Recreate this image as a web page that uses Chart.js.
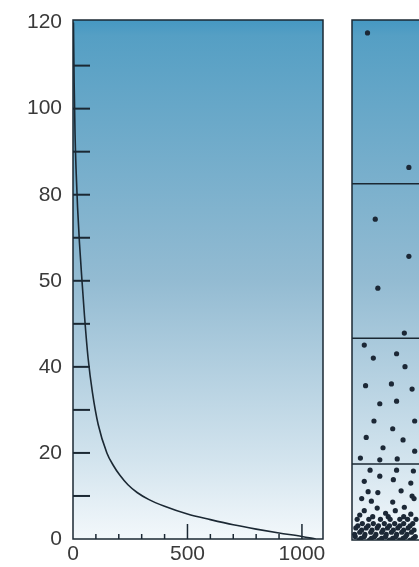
<!DOCTYPE html>
<html>
<head>
<meta charset="utf-8">
<script src="https://cdn.jsdelivr.net/npm/chart.js@4.4.1/dist/chart.umd.min.js"></script>
<style>
  html, body { margin: 0; padding: 0; background: #fff; overflow: hidden; }
  #wrap { position: relative; width: 419px; height: 567px; overflow: hidden; }
  #left { position: absolute; left: 0; top: 0; }
  #right { position: absolute; left: 340px; top: 0; }
</style>
</head>
<body>
<div id="wrap">
  <canvas id="left" width="340" height="567"></canvas>
  <canvas id="right" width="100" height="567"></canvas>
</div>
<script>
// y axis is drawn on an evenly spaced index, labels as printed in the figure
const yLabels = ["0", "20", "40", "50", "80", "100", "120"];
const xLabels = [0, 500, 1000];

// decay curve (x, y-index)
const curveX = [2, 5, 9, 14, 20, 28, 38, 50, 66, 85, 110, 148, 175, 205, 240, 280, 330, 400, 500, 600, 700, 800, 900, 1000, 1060];
const curveY = [6.0, 5.3, 4.7, 4.25, 3.85, 3.45, 3.05, 2.6, 2.1, 1.7, 1.33, 1.0, 0.86, 0.74, 0.63, 0.54, 0.46, 0.38, 0.29, 0.225, 0.165, 0.115, 0.07, 0.03, 0];

// right panel: particles and band boundaries
const dotX = [2.4, 8.8, 3.6, 8.8, 4.0, 8.1,
  1.9, 3.3, 6.9, 8.2, 2.1, 6.1, 9.3, 4.3, 6.9, 3.4, 6.3, 9.7, 2.2, 7.9, 4.8, 9.7, 1.3, 4.3, 7.0,
  2.8, 6.9, 9.5, 4.3, 6.4, 1.9, 9.1, 2.5, 4.0, 7.6, 9.3, 1.5, 3.0, 6.3, 8.1, 9.6, 1.9, 3.9, 5.2, 6.7, 9.1, 1.2,
  3.2, 5.6, 8.0,
  0.8, 2.6, 4.4, 5.9, 7.4, 8.6, 9.9,
  1.6, 3.3, 5.0, 6.6, 8.0, 9.4,
  0.9, 2.5, 4.1, 5.8, 7.4, 9.0,
  0.6, 2.2, 3.9, 5.5, 7.1, 8.7,
  1.5, 3.1, 4.8, 6.4, 8.0, 9.6,
  1.2, 2.9, 4.6, 6.1, 7.7, 9.2,
  0.4, 2.0, 3.7, 5.3, 6.9, 8.5,
  0.5, 1.9, 3.5, 5.2, 6.8, 8.3, 9.8,
  1.4, 3.0, 4.6, 6.3, 7.9, 9.5,
  1.1, 2.7, 4.2, 5.8, 7.4, 9.0];
const dotY = [5.88, 4.32, 3.72, 3.29, 2.92, 2.40,
  2.26, 2.11, 2.16, 2.01, 1.79, 1.81, 1.75, 1.58, 1.61, 1.38, 1.29, 1.38, 1.19, 1.16, 1.07, 1.03, 0.95, 0.93, 0.94,
  0.81, 0.81, 0.80, 0.74, 0.70, 0.68, 0.66, 0.56, 0.55, 0.57, 0.51, 0.48, 0.45, 0.44, 0.38, 0.48, 0.34, 0.37, 0.31, 0.34, 0.30, 0.29,
  0.27, 0.27, 0.27,
  0.24, 0.24, 0.24, 0.24, 0.24, 0.24, 0.24,
  0.19, 0.19, 0.19, 0.19, 0.19, 0.19,
  0.165, 0.165, 0.165, 0.165, 0.165, 0.165,
  0.14, 0.14, 0.14, 0.14, 0.14, 0.14,
  0.115, 0.115, 0.115, 0.115, 0.115, 0.115,
  0.09, 0.09, 0.09, 0.09, 0.09, 0.09,
  0.065, 0.065, 0.065, 0.065, 0.065, 0.065,
  0.04, 0.04, 0.04, 0.04, 0.04, 0.04, 0.04,
  0.02, 0.02, 0.02, 0.02, 0.02, 0.02,
  0.0, 0.0, 0.0, 0.0, 0.0, 0.0];
const bandLevels = [4.13, 2.34, 0.88];

const INK = "#1b2833";
const Y_MAX = 6.03;

const gradientBg = {
  id: "gradientBg",
  beforeDraw(chart) {
    const { ctx, chartArea: a } = chart;
    const g = ctx.createLinearGradient(0, a.top, 0, a.bottom);
    g.addColorStop(0, "#4598c2");
    g.addColorStop(0.03, "#559fc4");
    g.addColorStop(0.5, "#93bbd2");
    g.addColorStop(0.85, "#d3e4ee");
    g.addColorStop(1, "#f3f8fb");
    ctx.save();
    ctx.fillStyle = g;
    ctx.fillRect(a.left, a.top, a.right - a.left, a.bottom - a.top);
    ctx.restore();
  }
};

const frameAndTicks = {
  id: "frameAndTicks",
  afterDraw(chart) {
    const { ctx, chartArea: a, scales } = chart;
    ctx.save();
    ctx.strokeStyle = INK;
    ctx.lineWidth = 1.5;
    if (chart.canvas.id === "left") {
      ctx.strokeRect(a.left, a.top, a.right - a.left, a.bottom - a.top);
      // y ticks, inside the plot
      ctx.lineWidth = 2;
      for (let v = 0.5; v <= 5.5; v += 0.5) {
        const py = scales.y.getPixelForValue(v);
        ctx.beginPath();
        ctx.moveTo(a.left, py);
        ctx.lineTo(a.left + 17, py);
        ctx.stroke();
      }
      // x ticks, inside the plot
      ctx.lineWidth = 1.5;
      for (let v = 100; v <= 1000; v += 100) {
        const px = scales.x.getPixelForValue(v);
        const len = v % 500 === 0 ? 15 : 5;
        ctx.beginPath();
        ctx.moveTo(px, a.bottom);
        ctx.lineTo(px, a.bottom - len);
        ctx.stroke();
      }
    } else {
      ctx.beginPath();
      ctx.moveTo(a.right + 5, a.top);
      ctx.lineTo(a.left, a.top);
      ctx.lineTo(a.left, a.bottom);
      ctx.lineTo(a.right + 5, a.bottom);
      ctx.stroke();
    }
    ctx.restore();
  }
};

const labelFont = { family: "Liberation Sans", size: 21 };

new Chart(document.getElementById("left"), {
  type: "line",
  data: {
    datasets: [{
      data: curveX.map((x, i) => ({ x: x, y: curveY[i] })),
      borderColor: INK,
      borderWidth: 1.6,
      pointRadius: 0,
      cubicInterpolationMode: "monotone",
      fill: false
    }]
  },
  options: {
    responsive: false,
    animation: false,
    layout: { padding: { top: 20, right: 17, left: 0, bottom: 0 } },
    plugins: { legend: { display: false }, tooltip: { enabled: false } },
    scales: {
      x: {
        type: "linear",
        min: 0,
        max: 1092,
        afterBuildTicks(scale) { scale.ticks = xLabels.map(v => ({ value: v })); },
        afterFit(scale) { scale.height = 28; scale.paddingLeft = 0; scale.paddingRight = 0; },
        grid: { display: false, drawTicks: false },
        border: { display: false },
        ticks: {
          padding: 3,
          color: "#3a3a3a",
          font: labelFont,
          maxRotation: 0,
          callback: v => String(v)
        }
      },
      y: {
        type: "linear",
        min: 0,
        max: Y_MAX,
        afterBuildTicks(scale) { scale.ticks = yLabels.map((l, i) => ({ value: i })); },
        afterFit(scale) { scale.width = 73; scale.paddingTop = 0; scale.paddingBottom = 0; },
        grid: { display: false, drawTicks: false },
        border: { display: false },
        ticks: {
          padding: 11,
          color: "#3a3a3a",
          font: labelFont,
          callback: v => yLabels[Math.round(v)]
        }
      }
    }
  },
  plugins: [gradientBg, frameAndTicks]
});

const bandSets = bandLevels.map(b => ({
  type: "line",
  data: [{ x: 0, y: b }, { x: 13, y: b }],
  borderColor: INK,
  borderWidth: 1.5,
  pointRadius: 0,
  fill: false
}));

new Chart(document.getElementById("right"), {
  type: "scatter",
  data: {
    datasets: [{
      data: dotX.map((x, i) => ({ x: x, y: dotY[i] })),
      backgroundColor: "#1c2836",
      borderWidth: 0,
      pointRadius: 2.6
    }].concat(bandSets)
  },
  options: {
    responsive: false,
    animation: false,
    layout: { padding: { top: 20, right: 0, left: 12, bottom: 27 } },
    plugins: { legend: { display: false }, tooltip: { enabled: false } },
    scales: {
      x: { type: "linear", min: 0, max: 13, display: false },
      y: { type: "linear", min: 0, max: Y_MAX, display: false }
    }
  },
  plugins: [gradientBg, frameAndTicks]
});
</script>
</body>
</html>
